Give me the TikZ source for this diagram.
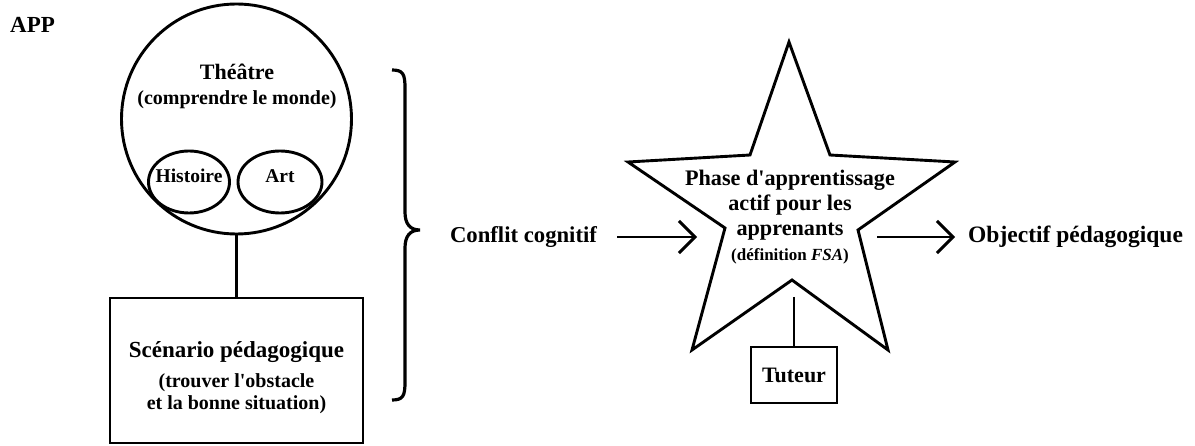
\documentclass[tikz,border=0pt]{standalone}
\usepackage{fontspec}
\setmainfont{Liberation Serif}[Ligatures=TeXOff]
\usetikzlibrary{arrows.meta,shapes.geometric}
\tikzset{
  every node/.style={font=\bfseries},
  lw/.style={line width=2.9pt},
  arr/.style={lw, -{Straight Barb[length=16pt,width=32pt]}},
  txt/.style={inner sep=0pt, align=center},
}
\begin{document}
\begin{tikzpicture}[x=1pt,y=-1pt]
\useasboundingbox (0,0) rectangle (1195,446);
% title
\node[txt, anchor=west, font=\bfseries\fontsize{23}{26}\selectfont] (app) at (10,25) {APP};
% theatre circle
\node[lw, circle, draw, minimum size=230pt, inner sep=0pt] (theatre) at (236.5,119) {};
\node[txt, font=\bfseries\fontsize{22}{25}\selectfont] (th1) at (237,72) {Théâtre};
\node[txt, font=\bfseries\fontsize{20}{23}\selectfont] (th2) at (237,100) {(comprendre le monde)};
\node[lw, ellipse, draw, minimum width=81pt, minimum height=62pt, inner sep=0pt] (hist) at (189,182) {};
\node[txt, font=\bfseries\fontsize{19.5}{22}\selectfont] (histt) at (189,176) {Histoire};
\node[lw, ellipse, draw, minimum width=84pt, minimum height=62pt, inner sep=0pt] (art) at (280,182) {};
\node[txt, font=\bfseries\fontsize{19.5}{22}\selectfont] (artt) at (280,176) {Art};
% scenario box
\node[lw, draw, minimum width=253pt, minimum height=145pt, inner sep=0pt] (scen) at (236.5,370.5) {};
\node[txt, font=\bfseries\fontsize{23}{26}\selectfont] (sc1) at (236.5,352) {Scénario pédagogique};
\node[txt, font=\bfseries\fontsize{20}{22}\selectfont] (sc2) at (236.5,394) {(trouver l'obstacle\\et la bonne situation)};
\draw[lw] (theatre.south) -- (scen.north);
% brace
\draw[line width=3.2pt] (392,70) .. controls (403,70) and (405,74) .. (405,88) -- (405,212)
  .. controls (405,224) and (410,230) .. (420,230)
  .. controls (410,230) and (405,236) .. (405,248) -- (405,382)
  .. controls (405,396) and (403,400) .. (392,400);
% conflit
\node[txt, font=\bfseries\fontsize{22.7}{26}\selectfont] (conflit) at (523.5,237) {Conflit cognitif};
\coordinate (cin) at (697,237);
\draw[arr, shorten <=20pt] (conflit.east) -- (cin);
% star
\coordinate (s1) at (789,42);
\coordinate (s2) at (830,155);
\coordinate (s3) at (955,162);
\coordinate (s4) at (858,230);
\coordinate (s5) at (888,350);
\coordinate (s6) at (792,280);
\coordinate (s7) at (692,350);
\coordinate (s8) at (725,228);
\coordinate (s9) at (628,162);
\coordinate (s10) at (750,155);
\draw[lw, line join=miter] (s1) -- (s2) -- (s3) -- (s4) -- (s5) -- (s6) -- (s7) -- (s8) -- (s9) -- (s10) -- cycle;
\node[txt, font=\bfseries\fontsize{22.2}{25}\selectfont] (phase) at (790,217)
  {Phase d'apprentissage\\actif pour les\\apprenants\\{\fontsize{17}{25}\selectfont (définition \textit{FSA})}};
% tuteur
\node[lw, draw, minimum width=86pt, minimum height=56pt, inner sep=0pt, font=\bfseries\fontsize{22}{25}\selectfont] (tuteur) at (794,375) {Tuteur};
\coordinate (tt) at (794,297);
\draw[lw] (tt) -- (tuteur.north);
% objectif
\node[txt, anchor=west, font=\bfseries\fontsize{23.5}{26}\selectfont] (obj) at (968,237) {Objectif pédagogique};
\coordinate (cout) at (877,237);
\draw[arr, shorten >=13pt] (cout) -- (obj.west);
\end{tikzpicture}
\end{document}
